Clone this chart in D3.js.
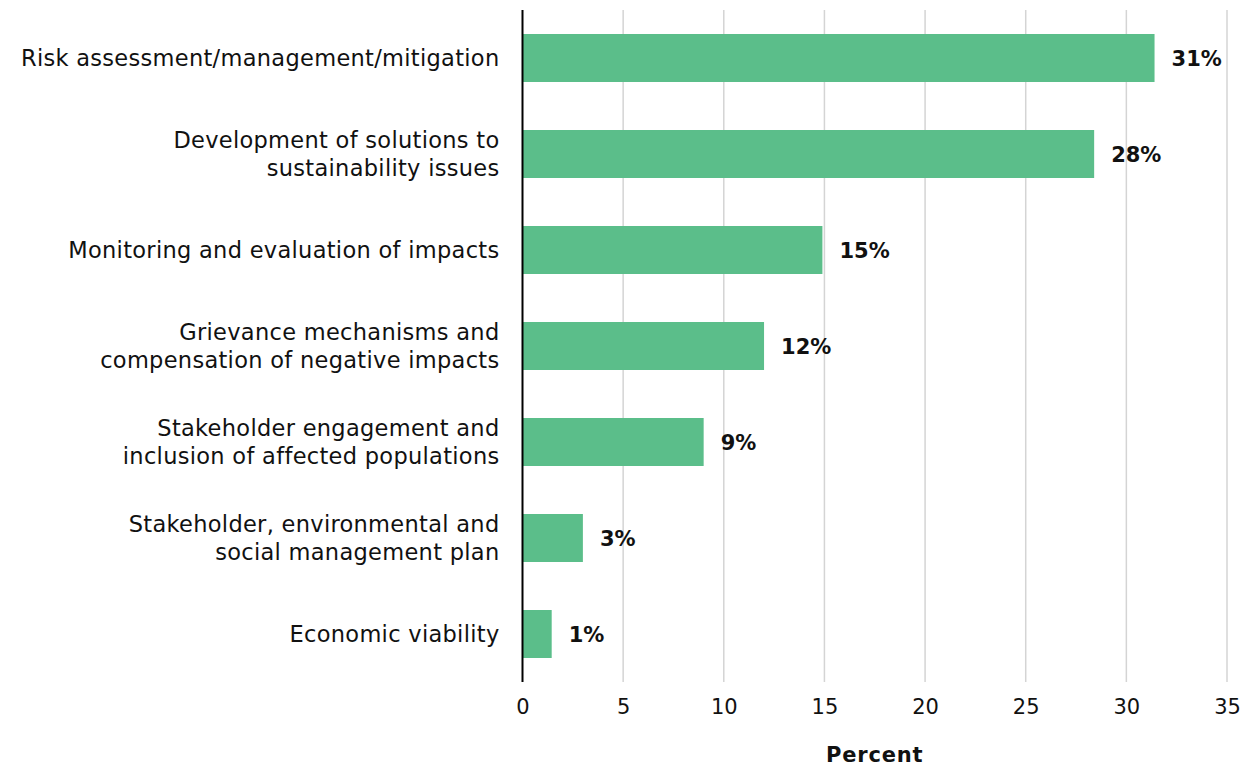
<!DOCTYPE html>
<html>
<head>
<meta charset="utf-8">
<script src="https://cdn.jsdelivr.net/npm/d3@7"></script>
<style>
  html, body { margin: 0; padding: 0; background: #ffffff; }
  svg { display: block; font-family: "DejaVu Sans", sans-serif; }
</style>
</head>
<body>
<svg id="chart" width="1252" height="768"></svg>
<script>
// Approaches used, share of respondents (percent)
const categories = [
  "Risk assessment/management/mitigation",
  "Development of solutions to|sustainability issues",
  "Monitoring and evaluation of impacts",
  "Grievance mechanisms and|compensation of negative impacts",
  "Stakeholder engagement and|inclusion of affected populations",
  "Stakeholder, environmental and|social management plan",
  "Economic viability"
];
const values = [31.4, 28.4, 14.9, 12.0, 9.0, 3.0, 1.45];
const xTicks = [0, 5, 10, 15, 20, 25, 30, 35];
const xTitle = "Percent";

const svg = d3.select("#chart");
const margin = { left: 522.5, right: 25, top: 10, bottom: 86 };
const width = 1252, height = 768;

const x = d3.scaleLinear().domain([0, 35]).range([margin.left, width - margin.right]);
const y = d3.scaleBand()
  .domain(categories)
  .range([margin.top, height - margin.bottom])
  .paddingInner(0.5)
  .paddingOuter(0.25);

// vertical gridlines
svg.append("g")
  .selectAll("line")
  .data(xTicks.filter(d => d > 0))
  .join("line")
  .attr("x1", d => x(d)).attr("x2", d => x(d))
  .attr("y1", margin.top).attr("y2", height - margin.bottom)
  .attr("stroke", "#d4d4d4")
  .attr("stroke-width", 1.5);

// bars
svg.append("g")
  .selectAll("rect")
  .data(values)
  .join("rect")
  .attr("x", x(0))
  .attr("y", (d, i) => y(categories[i]))
  .attr("width", d => x(d) - x(0))
  .attr("height", y.bandwidth())
  .attr("fill", "#5bbe8a");

// value labels
svg.append("g")
  .selectAll("text")
  .data(values)
  .join("text")
  .attr("x", d => x(d) + 17)
  .attr("y", (d, i) => y(categories[i]) + y.bandwidth() / 2)
  .attr("dy", "0.36em")
  .attr("font-size", 21)
  .attr("font-weight", "bold")
  .attr("fill", "#111")
  .text(d => d3.format(".0f")(d) + "%");

// category labels (with manual line breaks)
const catG = svg.append("g");
categories.forEach(c => {
  const lines = c.split("|");
  const cy = y(c) + y.bandwidth() / 2;
  const lh = 28;
  const t = catG.append("text")
    .attr("text-anchor", "end")
    .attr("font-size", 22.5)
    .attr("letter-spacing", 0.3)
    .attr("fill", "#111");
  lines.forEach((ln, j) => {
    t.append("tspan")
      .attr("x", margin.left - 23)
      .attr("y", cy + (j - (lines.length - 1) / 2) * lh)
      .attr("dy", "0.36em")
      .text(ln);
  });
});

// x axis tick labels
const xAxis = d3.axisBottom(x).tickValues(xTicks).tickSize(0).tickPadding(17);
svg.append("g")
  .attr("transform", `translate(0,${height - margin.bottom})`)
  .call(xAxis)
  .call(g => g.select(".domain").remove())
  .call(g => g.selectAll("text")
    .attr("font-size", 21)
    .attr("font-family", "'DejaVu Sans', sans-serif")
    .attr("fill", "#111"));

// y axis line
svg.append("line")
  .attr("x1", x(0)).attr("x2", x(0))
  .attr("y1", margin.top).attr("y2", height - margin.bottom)
  .attr("stroke", "#000")
  .attr("stroke-width", 2);

// axis title
svg.append("text")
  .attr("x", (x(0) + x(35)) / 2)
  .attr("y", 755)
  .attr("dy", "0.35em")
  .attr("text-anchor", "middle")
  .attr("font-size", 21)
  .attr("font-weight", "bold")
  .attr("letter-spacing", 0.8)
  .attr("fill", "#111")
  .text(xTitle);
</script>
</body>
</html>
